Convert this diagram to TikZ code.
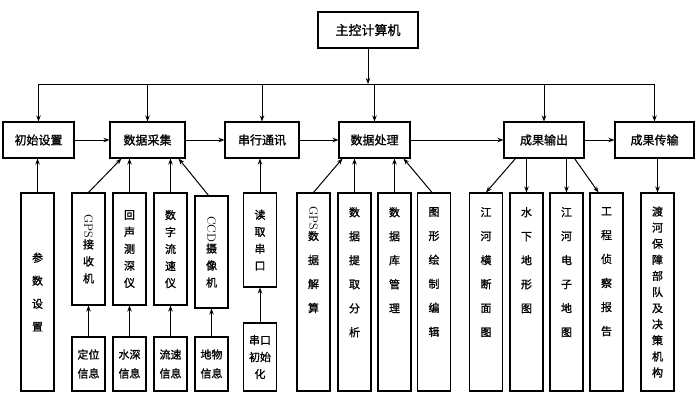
\documentclass[tikz,border=0pt]{standalone}
\usepackage{fontspec}
\usepackage{graphicx}
\newfontfamily\cjk{Noto Sans CJK SC}[FakeBold=1.2]
\usetikzlibrary{arrows.meta}

\tikzset{
  box/.style={draw, line width=1.1pt, inner sep=0pt, font=\cjk\fontsize{12}{14}\selectfont},
  col/.style={draw, line width=1.1pt, inner sep=0pt, minimum width=33, align=center, font=\cjk\fontsize{11}{17}\selectfont},
  vtext/.style={inner sep=0pt, align=center, anchor=north, font=\cjk\fontsize{11}{24}\selectfont},
  link/.style={line width=1pt, -{Stealth[length=6pt,width=4.5pt]}},
}
\newcommand{\sidew}[1]{\rotatebox{-90}{\rmfamily\fontsize{12}{12}\selectfont #1}}

\begin{document}
\begin{tikzpicture}[x=1pt,y=1pt,yscale=-1,xscale=1]
\useasboundingbox (0,0) rectangle (700,410);

%Shape: Rectangle [main]
\node [box, minimum width=100, minimum height=36, font=\cjk\fontsize{13}{15}\selectfont] (main) at (368,30) {主控计算机};

%Shape: Rectangle [row]
\node [box, minimum width=71, minimum height=36] (init) at (38.5,140) {初始设置};
\node [box, minimum width=75, minimum height=36] (coll) at (147.5,140) {数据采集};
\node [box, minimum width=74, minimum height=36] (comm) at (262,140) {串行通讯};
\node [box, minimum width=71, minimum height=36] (proc) at (374.5,140) {数据处理};
\node [box, minimum width=80, minimum height=36] (outp) at (544,140) {成果输出};
\node [box, minimum width=79, minimum height=36] (trans) at (654.5,140) {成果传输};

%Shape: Rectangle [collect]
\node [col, minimum height=198, font=\cjk\fontsize{11}{23}\selectfont] (par) at (37.5,292) {参\\数\\设\\置};
\node [col, minimum height=112] (gps) at (88.5,249) {\sidew{GPS}\\接\\收\\机};
\node [col, minimum height=112] (echo) at (129.5,249) {回\\声\\测\\深\\仪};
\node [col, minimum height=112] (flow) at (170.5,249) {数\\字\\流\\速\\仪};
\node [col, minimum height=112] (ccd) at (211.5,252) {\sidew{CCD}\\摄\\像\\机};
\node [col, minimum height=94] (rd) at (260,240) {读\\取\\串\\口};

%Shape: Rectangle [info]
\node [col, minimum height=54, font=\cjk\fontsize{11}{19}\selectfont] (pos) at (88.5,364) {定位\\信息};
\node [col, minimum height=54, font=\cjk\fontsize{11}{19}\selectfont] (dep) at (129.5,364) {水深\\信息};
\node [col, minimum height=54, font=\cjk\fontsize{11}{19}\selectfont] (vel) at (170.5,364) {流速\\信息};
\node [col, minimum height=54, font=\cjk\fontsize{11}{19}\selectfont] (obj) at (211.5,364) {地物\\信息};
\node [col, minimum height=68] (ini) at (260,357) {串口\\初始\\化};

%Shape: Rectangle [process, output]
\node [col, minimum height=198] (solve) at (313.5,292) {};
\node [col, minimum height=198] (ext) at (354.5,292) {};
\node [col, minimum height=198] (db) at (394.5,292) {};
\node [col, minimum height=198] (gra) at (434,292) {};
\node [col, minimum height=198] (sect) at (486,292) {};
\node [col, minimum height=198] (topo) at (526.5,292) {};
\node [col, minimum height=198] (emap) at (566.5,292) {};
\node [col, minimum height=198] (rep) at (606.5,292) {};
\node [col, minimum height=198, font=\cjk\fontsize{11}{16.1}\selectfont] (dec) at (657.5,292) {渡\\河\\保\\障\\部\\队\\及\\决\\策\\机\\构};

% Text Node
\node [vtext] (solvet) at (313.5,206) {\sidew{GPS}\\数\\据\\解\\算};
\node [vtext] (extt) at (354.5,207) {数\\据\\提\\取\\分\\析};
\node [vtext] (dbt) at (394.5,207) {数\\据\\库\\管\\理};
\node [vtext] (grat) at (434,207) {图\\形\\绘\\制\\编\\辑};
\node [vtext] (sectt) at (486,207) {江\\河\\横\\断\\面\\图};
\node [vtext] (topot) at (526.5,207) {水\\下\\地\\形\\图};
\node [vtext] (emapt) at (566.5,207) {江\\河\\电\\子\\地\\图};
\node [vtext] (rept) at (606.5,207) {工\\程\\侦\\察\\报\\告};

%Straight Lines [bus]
\coordinate (bus) at (0,84);
\draw [line width=1pt] (init |- bus) -- (trans |- bus);
\draw [link] (main.south) -- (main |- bus);
\draw [link] (init |- bus) -- (init.north);
\draw [link] (coll |- bus) -- (coll.north);
\draw [link] (comm |- bus) -- (comm.north);
\draw [link] (proc |- bus) -- (proc.north);
\draw [link] (outp |- bus) -- (outp.north);
\draw [link] (trans |- bus) -- (trans.north);

%Straight Lines [row]
\draw [link] (init) -- (coll);
\draw [link] (coll) -- (comm);
\draw [link] (comm) -- (proc);
\draw [link] (proc) -- (outp);
\draw [link] (outp) -- (trans);

%Straight Lines [up]
\draw [link] (par.north) -- (par.north |- init.south);
\draw [link] (gps.north) -- ([xshift=12]coll.south west);
\draw [link] (echo.north) -- (echo.north |- coll.south);
\draw [link] (flow.north) -- (flow.north |- coll.south);
\draw [link] ([xshift=-3]ccd.north) -- ([xshift=-7]coll.south east);
\draw [link] (rd.north) -- (rd.north |- comm.south);
\draw [link] (pos) -- (gps);
\draw [link] (dep) -- (echo);
\draw [link] (vel) -- (flow);
\draw [link] (obj) -- (ccd);
\draw [link] (ini) -- (rd);
\draw [link] (solve.north) -- ([xshift=4]proc.south west);
\draw [link] (ext.north) -- (ext.north |- proc.south);
\draw [link] (db.north) -- (db.north |- proc.south);
\draw [link] ([xshift=-2]gra.north) -- ([xshift=-7]proc.south east);

%Straight Lines [down]
\draw [link] ([xshift=12]outp.south west) -- (sect.north);
\draw [link] (topo |- outp.south) -- (topo.north);
\draw [link] (emap |- outp.south) -- (emap.north);
\draw [link] ([xshift=-10]outp.south east) -- ([xshift=-8]rep.north);
\draw [link] (dec |- trans.south) -- (dec.north);

\end{tikzpicture}
\end{document}
